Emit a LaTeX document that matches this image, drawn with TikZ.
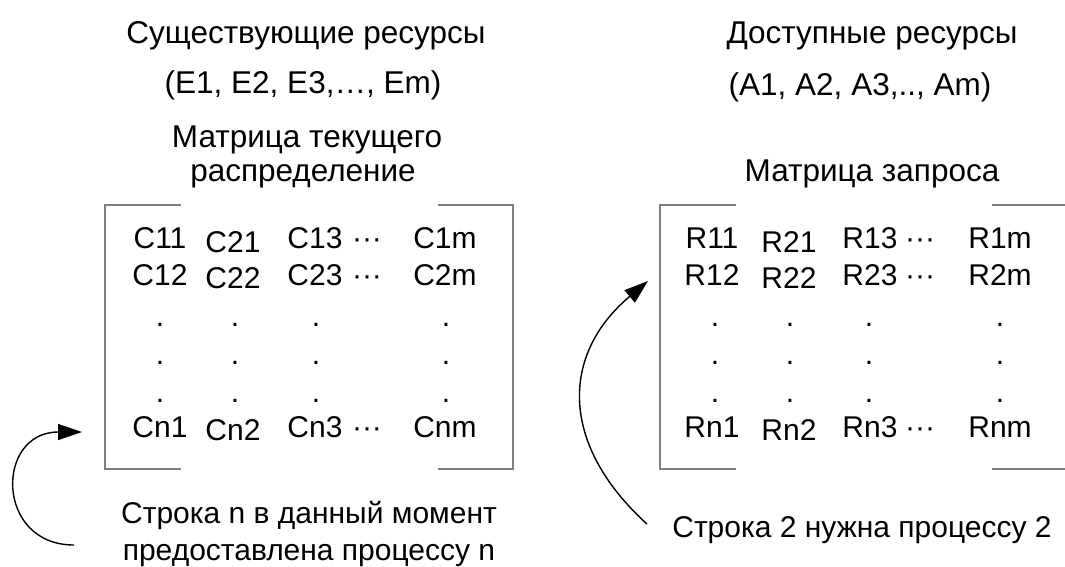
\documentclass[tikz,border=0pt]{standalone}
\usepackage{fontspec}
\setmainfont{Liberation Sans}
\usetikzlibrary{arrows.meta}

\begin{document}
\begin{tikzpicture}[x=1pt,y=-1pt,
  txt/.style={font=\fontsize{30}{36}\selectfont, inner sep=0pt, anchor=base},
  head/.style={font=\fontsize{31.5}{38}\selectfont, inner sep=0pt, anchor=base},
  brk/.style={draw=black!50, line width=1.3pt},
  arr/.style={draw=black, line width=1.4pt, -{Triangle[length=24pt,width=16pt]}}]
\useasboundingbox (0,0) rectangle (1065,566);
\clip (0,0) rectangle (1065,566);

% headings of the current-allocation side
\node[head] (hE)  at (306,43)  {Существующие ресурсы};
\node[head] (vE)  at (303,93)  {(E1, E2, E3,…, Em)};
\node[head] (mC1) at (307,147) {Матрица текущего};
\node[head] (mC2) at (303,181) {распределение};

% headings of the request side
\node[head] (hA)  at (872,43)  {Доступные ресурсы};
\node[head] (vA)  at (860,95)  {(A1, A2, A3,.., Am)};
\node[head] (mR)  at (872,181) {Матрица запроса};

% matrix brackets
\draw[brk] (181,205) -- (105,205) -- (105,469) -- (181,469);
\draw[brk] (438,205) -- (513,205) -- (513,469) -- (438,469);
\draw[brk] (736,205) -- (660,205) -- (660,469) -- (736,469);
\draw[brk] (992,205) -- (1070,205) -- (1070,469) -- (992,469);

% current allocation matrix C
\foreach \n/\x/\y/\t in {
  c11/160/248/C11, c21/233/252/C21, c13/315/248/C13, cd1/367/248/···, c1m/445/248/C1m,
  c12/160/285/C12, c22/233/288/C22, c23/315/285/C23, cd2/367/285/···, c2m/445/285/C2m,
  cn1/160/437/Cn1, cn2/233/440/Cn2, cn3/315/437/Cn3, cdn/367/437/···, cnm/445/437/Cnm}
  \node[txt, name=\n] at (\x,\y) {\t};
\foreach \r/\y in {a/326, b/364, c/402}
  \foreach \k/\x in {1/160, 2/235, 3/316, 4/446}
    \node[txt, name=cv\r\k] at (\x,\y) {.};

% request matrix R
\foreach \n/\x/\y/\t in {
  r11/712/248/R11, r21/789/252/R21, r13/870/248/R13, rd1/920/248/···, r1m/1000/248/R1m,
  r12/712/285/R12, r22/789/288/R22, r23/870/285/R23, rd2/920/285/···, r2m/1000/285/R2m,
  rn1/712/437/Rn1, rn2/789/440/Rn2, rn3/870/437/Rn3, rdn/920/437/···, rnm/1000/437/Rnm}
  \node[txt, name=\n] at (\x,\y) {\t};
\foreach \r/\y in {a/326, b/364, c/402}
  \foreach \k/\x in {1/715, 2/790, 3/869, 4/1000}
    \node[txt, name=rv\r\k] at (\x,\y) {.};

% captions under the matrices
\node[txt] (capC1) at (309,523) {Строка n в данный момент};
\node[txt] (capC2) at (309,560) {предоставлена процессу n};
\node[txt] (capR)  at (862,537) {Строка 2 нужна процессу 2};

% curved pointers
\coordinate (la0) at (74,545);
\coordinate (la1) at (82,432);
\draw[arr] (la0) .. controls (-5,545) and (-5,432) .. (la1);

\coordinate (ra0) at (647,524);
\coordinate (ra1) at (648,281);
\draw[arr] (ra0) .. controls (560,445) and (560,355) .. (ra1);
\end{tikzpicture}
\end{document}
